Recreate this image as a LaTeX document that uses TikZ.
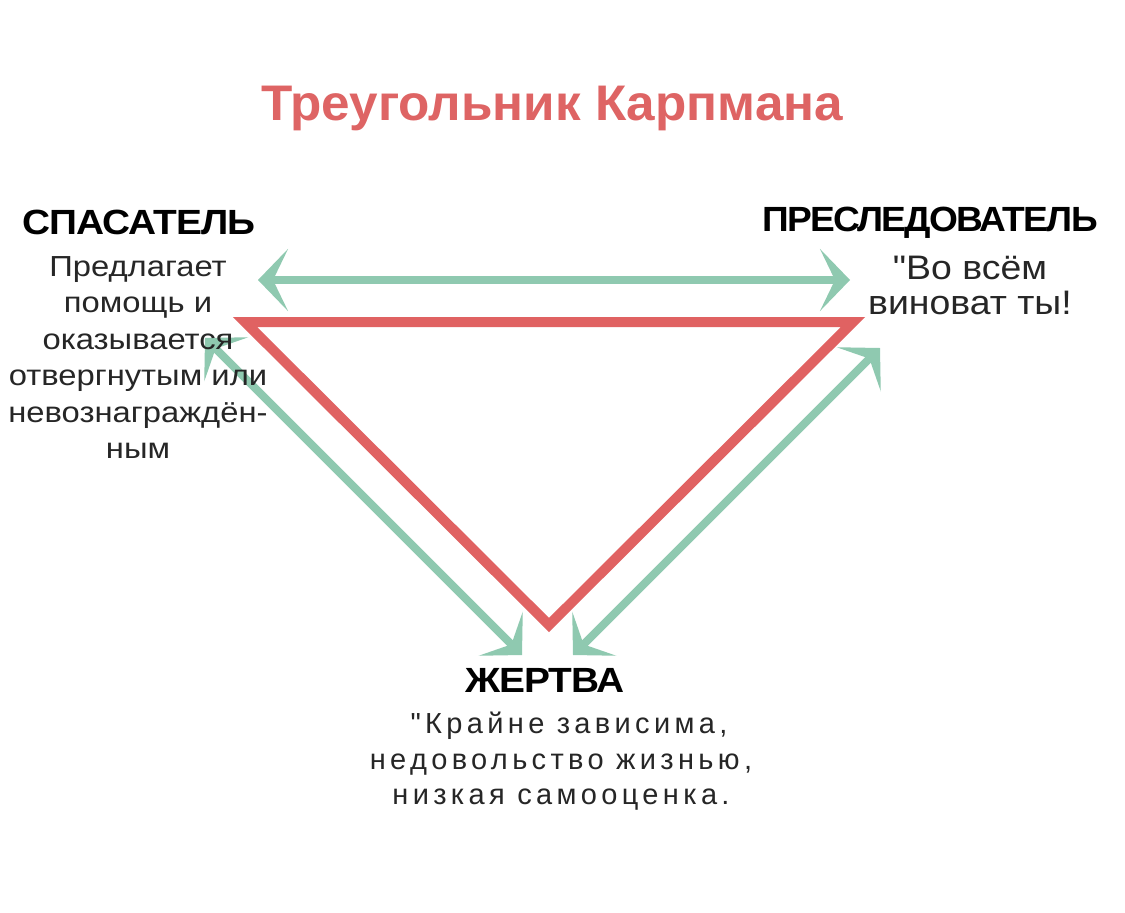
\documentclass[tikz,border=0pt]{standalone}
\usepackage{fontspec}
\setmainfont{Liberation Sans}
\newfontfamily\labfont[LetterSpace=-3,FakeStretch=1.11]{Liberation Sans Bold}
\newfontfamily\persfont[LetterSpace=-5,FakeStretch=1.06]{Liberation Sans Bold}
\newfontfamily\titlefont[FakeStretch=1.025]{Liberation Sans Bold}
\newfontfamily\lbodyfont[FakeStretch=1.13]{Liberation Sans}
\newfontfamily\rbodyfont[FakeStretch=1.1]{Liberation Sans}
\newfontfamily\trackfont[LetterSpace=15]{Liberation Sans}
\usetikzlibrary{arrows.meta}
\definecolor{kred}{RGB}{224,98,98}
\definecolor{kgreen}{RGB}{143,201,176}
\definecolor{ktitle}{RGB}{222,100,100}
\tikzset{
  role/.style={inner sep=0pt, anchor=base, font=\labfont\fontsize{35}{40}\selectfont},
  lbody/.style={inner sep=0pt, anchor=base, font=\lbodyfont\fontsize{29}{36}\selectfont, text=black!85},
  rbody/.style={inner sep=0pt, anchor=base, font=\rbodyfont\fontsize{34}{38}\selectfont, text=black!85},
  bbody/.style={inner sep=0pt, anchor=base, font=\trackfont\fontsize{29}{36}\selectfont, text=black!85},
  tri/.style={draw=kred, line width=10pt, line join=miter},
  swap/.style={draw=kgreen, line width=8pt, {Stealth[length=30pt,width=62pt,inset=15pt]}-{Stealth[length=30pt,width=62pt,inset=15pt]}},
}
\begin{document}
\begin{tikzpicture}[x=1pt,y=-1pt]
\useasboundingbox (0,0) rectangle (1125,913);
\fill[white] (0,0) rectangle (1125,913);

\node[inner sep=0pt, anchor=base, font=\titlefont\fontsize{50}{60}\selectfont, text=ktitle] (title) at (552,120) {Треугольник Карпмана};

% triangle
\coordinate (A) at (245,322);
\coordinate (B) at (853,322);
\coordinate (C) at (549,625);
\draw[tri] (A) -- (B) -- (C) -- cycle;

% arrows
\coordinate (t1) at (258,280);
\coordinate (t2) at (850,280);
\coordinate (l1) at (205,338);
\coordinate (l2) at (522,655);
\coordinate (r1) at (573,655);
\coordinate (r2) at (880,348);
\draw[swap] (t1) -- (t2);
\draw[swap] (l1) -- (l2);
\draw[swap] (r1) -- (r2);

% rescuer
\node[role] (resc) at (139,234) {СПАСАТЕЛЬ};
\node[lbody] (rl1) at (138,276) {Предлагает};
\node[lbody] (rl2) at (138,312.5) {помощь и};
\node[lbody] (rl3) at (138,349) {оказывается};
\node[lbody] (rl4) at (138,385.5) {отвергнутым или};
\node[lbody] (rl5) at (138,422) {невознаграждён-};
\node[lbody] (rl6) at (138,458.5) {ным};

% persecutor
\node[role, font=\persfont\fontsize{35}{40}\selectfont] (pers) at (930,231) {ПРЕСЛЕДОВАТЕЛЬ};
\node[rbody] (pl1) at (970,279) {"Во всём};
\node[rbody] (pl2) at (970,314) {виноват ты!};

% victim
\node[role] (vict) at (545,692) {ЖЕРТВА};
\node[bbody] (vl1) at (569,733) {"Крайне зависима,};
\node[bbody] (vl2) at (561,769) {недовольство жизнью,};
\node[bbody] (vl3) at (561,804) {низкая самооценка.};
\end{tikzpicture}
\end{document}
